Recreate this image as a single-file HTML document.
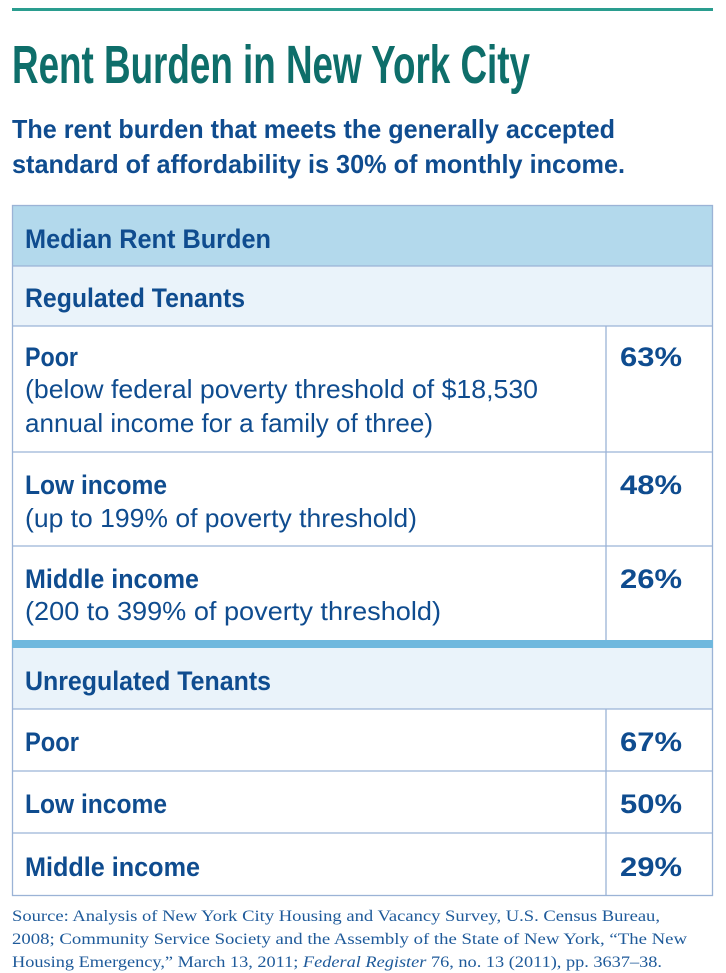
<!DOCTYPE html>
<html><head><meta charset="utf-8"><style>
html,body{margin:0;padding:0;background:#fff;width:726px;height:973px;overflow:hidden}
svg{display:block}
</style></head><body>
<svg width="726" height="973" xmlns="http://www.w3.org/2000/svg" font-family="'Liberation Sans', sans-serif">
<rect x="12" y="8" width="701" height="3" fill="#2a9d8f"/>
<text x="12" y="83" font-size="54" font-weight="bold" font-family="'Liberation Sans Narrow', 'Liberation Sans', sans-serif" fill="#0e6e6a" textLength="518" lengthAdjust="spacingAndGlyphs">Rent Burden in New York City</text>
<g fill="#0f4c8f" font-weight="bold">
<text x="12" y="138" font-size="26" textLength="603" lengthAdjust="spacingAndGlyphs">The rent burden that meets the generally accepted</text>
<text x="12" y="173" font-size="26" textLength="613" lengthAdjust="spacingAndGlyphs">standard of affordability is 30% of monthly income.</text>
</g>
<rect x="12" y="205" width="701" height="61" fill="#b3d9ec"/>
<rect x="12" y="266" width="701" height="60" fill="#eaf3fa"/>
<rect x="12" y="648" width="701" height="61" fill="#eaf3fa"/>
<g stroke="#9bb3d6" stroke-width="1.3" fill="none">
<rect x="12.5" y="205.5" width="700" height="690"/>
<line x1="12" y1="266" x2="713" y2="266"/>
<line x1="12" y1="326" x2="713" y2="326"/>
<line x1="12" y1="452" x2="713" y2="452"/>
<line x1="12" y1="546" x2="713" y2="546"/>
<line x1="12" y1="709" x2="713" y2="709"/>
<line x1="12" y1="771" x2="713" y2="771"/>
<line x1="12" y1="833" x2="713" y2="833"/>
<line x1="606" y1="326" x2="606" y2="640"/>
<line x1="606" y1="709" x2="606" y2="896"/>
</g>
<rect x="12" y="640" width="701" height="8" fill="#6fb8de"/>
<g fill="#0f4c8f" font-weight="bold" font-size="27" font-family="'Liberation Sans', sans-serif">
<text x="25" y="248" textLength="246" lengthAdjust="spacingAndGlyphs">Median Rent Burden</text>
<text x="25" y="307" textLength="220" lengthAdjust="spacingAndGlyphs">Regulated Tenants</text>
<text x="25" y="366" textLength="53" lengthAdjust="spacingAndGlyphs">Poor</text>
<text x="25" y="494" textLength="142" lengthAdjust="spacingAndGlyphs">Low income</text>
<text x="25" y="588" textLength="174" lengthAdjust="spacingAndGlyphs">Middle income</text>
<text x="25" y="690" textLength="246" lengthAdjust="spacingAndGlyphs">Unregulated Tenants</text>
<text x="25" y="751" textLength="54" lengthAdjust="spacingAndGlyphs">Poor</text>
<text x="25" y="813" textLength="142" lengthAdjust="spacingAndGlyphs">Low income</text>
<text x="25" y="876" textLength="175" lengthAdjust="spacingAndGlyphs">Middle income</text>
<text x="620" y="366" textLength="62" lengthAdjust="spacingAndGlyphs">63%</text>
<text x="620" y="494" textLength="62" lengthAdjust="spacingAndGlyphs">48%</text>
<text x="620" y="588" textLength="62" lengthAdjust="spacingAndGlyphs">26%</text>
<text x="620" y="751" textLength="62" lengthAdjust="spacingAndGlyphs">67%</text>
<text x="620" y="813" textLength="62" lengthAdjust="spacingAndGlyphs">50%</text>
<text x="620" y="876" textLength="62" lengthAdjust="spacingAndGlyphs">29%</text>
</g>
<g fill="#0f4c8f" font-size="26" font-family="'Liberation Sans', sans-serif">
<text x="25" y="398" textLength="513" lengthAdjust="spacingAndGlyphs">(below federal poverty threshold of $18,530</text>
<text x="25" y="432" textLength="408" lengthAdjust="spacingAndGlyphs">annual income for a family of three)</text>
<text x="25" y="527" textLength="392" lengthAdjust="spacingAndGlyphs">(up to 199% of poverty threshold)</text>
<text x="25" y="620" textLength="416" lengthAdjust="spacingAndGlyphs">(200 to 399% of poverty threshold)</text>
</g>
<g fill="#1e5a9a" font-size="16" font-family="'Liberation Serif', serif">
<text x="12" y="921" textLength="648" lengthAdjust="spacingAndGlyphs">Source: Analysis of New York City Housing and Vacancy Survey, U.S. Census Bureau,</text>
<text x="12" y="944" textLength="675" lengthAdjust="spacingAndGlyphs">2008; Community Service Society and the Assembly of the State of New York, “The New</text>
<text x="12" y="967" textLength="650" lengthAdjust="spacingAndGlyphs">Housing Emergency,” March 13, 2011; <tspan font-style="italic">Federal Register</tspan> 76, no. 13 (2011), pp. 3637–38.</text>
</g>
</svg>
</body></html>
